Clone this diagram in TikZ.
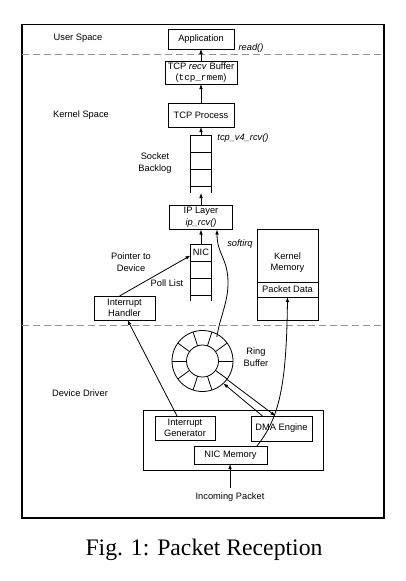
\documentclass[tikz,border=0pt]{standalone}
\usepackage{fontspec}
\setmainfont{Liberation Serif}
\setsansfont{Liberation Sans}
\setmonofont{Liberation Mono}
\usepackage{tikz}
\usetikzlibrary{positioning}
\usetikzlibrary{arrows.meta}

\tikzset{
  lbl/.style={font=\sffamily\fontsize{9.3}{11.5}\selectfont, align=center, inner sep=0pt},
  blk/.style={lbl, draw, line width=0.8pt, outer sep=0pt},
  cell/.style={lbl, draw, line width=0.8pt, outer sep=0pt, minimum width=21pt, minimum height=17pt},
  sep/.style={draw=gray!85, dash pattern=on 7pt off 4pt, line width=0.9pt},
}

\begin{document}
\begin{tikzpicture}[x=1pt, y=-1pt, line width=0.8pt, >={Latex[length=5pt,width=3.6pt]}]
	\useasboundingbox (0,0) rectangle (406,581);
	\draw[line width=1.2pt] (22,24.5) rectangle (384,518);
	% space separators
	\draw[sep] (22,54) -- (384,54);
	\draw[sep] (22,325) -- (384,325);
	
	\node[lbl] (user) at (78,38) {User Space};
	\node[lbl] (kernel) at (81,115) {Kernel Space};
	\node[lbl] (driver) at (80,393) {Device Driver};
	
	\node[blk, minimum width=66pt, minimum height=20pt] (app) at (201,39) {Application};
	\node[blk, minimum width=72pt, minimum height=23pt] (rmem) [below = 12pt of app] {TCP \textit{recv} Buffer\\(\texttt{tcp\_rmem})};
	\node[blk, minimum width=66pt, minimum height=24pt] (tcp) [below = 19pt of rmem] {TCP Process};
	
	% socket backlog
	\node[cell] (bl1) [below = 8pt of tcp] {};
	\node[cell] (bl2) [below = 0pt of bl1] {};
	\node[cell] (bl3) [below = 0pt of bl2] {};
	\draw (bl3.south west) -- ++(0,7) (bl3.south east) -- ++(0,7);
	\coordinate (bltail) at ([yshift=-7pt]bl3.south);
	
	\node[blk, minimum width=63pt, minimum height=24pt] (ip) [below = 19.5pt of bl3] {IP Layer\\\textit{ip\_rcv()}};
	
	% poll list
	\node[cell] (nic) [below = 14.5pt of ip] {NIC};
	\node[cell] (pl2) [below = 0pt of nic] {};
	\node[cell] (pl3) [below = 0pt of pl2] {};
	\draw (pl3.south west) -- ++(0,6) (pl3.south east) -- ++(0,6);
	
	\draw[->] (rmem) -- (app);
	\draw[->] (tcp) -- (rmem);
	\draw[->] (bl1) -- (tcp);
	\draw[->] (ip) -- (bltail);
	\draw[->] (nic) -- (ip);
	
	\node[lbl] (readlbl) at (251,48) {\textit{read()}};
	\node[lbl] (v4lbl) at (243,138) {\textit{tcp\_v4\_rcv()}};
	\node[lbl] (bllbl) at (155,163) {Socket\\Backlog};
	\node[lbl] (softlbl) at (240,244) {\textit{softirq}};
	\node[lbl] (ptrlbl) at (131,262) {Pointer to\\Device};
	\node[lbl] (polllbl) at (167,283) {Poll List};
	\node[lbl] (ringlbl) at (256,357) {Ring\\Buffer};
	
	% kernel memory
	\node[blk, minimum width=61pt, minimum height=53pt] (kmem) at (287.5,255.5) {};
	\node[lbl] (kmemlbl) at ([yshift=-7pt]kmem.center) {Kernel\\Memory};
	\node[blk, minimum width=61pt, minimum height=15pt] (pdata) [below = 0pt of kmem] {Packet Data};
	\node[blk, minimum width=61pt, minimum height=23pt] (kfree) [below = 0pt of pdata] {};
	
	\node[blk, minimum width=61pt, minimum height=24pt] (ihand) at (124.5,308) {Interrupt\\Handler};
	
	% ring buffer
	\node[circle, draw, minimum size=61pt, inner sep=0pt, outer sep=0pt] (ring) at (202.5,361) {};
	\node[circle, draw, minimum size=32pt, inner sep=0pt, outer sep=0pt] (ringin) at (ring.center) {};
	\foreach \a in {0,36,...,324}
		\draw (ring.\a) -- (ringin.\a);
	
	% NIC
	\node[blk, minimum width=180pt, minimum height=60pt] (nicdev) at (233,440) {};
	\node[blk, minimum width=60pt, minimum height=24pt] (igen) at (185,428) {Interrupt\\Generator};
	\node[blk, minimum width=61pt, minimum height=25pt] (dma) at (281.5,428.5) {DMA Engine};
	\node[blk, minimum width=73pt, minimum height=18pt] (nicmem) at (230.5,455) {NIC Memory};
	\node[lbl] (incoming) at (230,497) {Incoming Packet};
	
	\draw[->] ([yshift=4pt]incoming.north) -- (incoming.north |- nicmem.south);
	\draw[->] ([xshift=-8pt]igen.north) -- ([xshift=3pt]ihand.south);
	\draw[->] ([xshift=-5pt]ihand.north) -- ([yshift=-3pt]nic.west);
	\draw[->] ([xshift=-19pt]dma.north) -- (ring.-47);
	\draw[->] (ring.-37) -- ([xshift=-6pt]dma.north);
	
	\coordinate (sbend) at (228,283);
	\draw[->] ([yshift=-3pt]ring.62) .. controls +(3,-20) and +(0,20) .. (sbend)
		.. controls +(0,-25) and +(0,25) .. ([xshift=16pt]ip.south);
	\draw[->] ([xshift=-10pt]nicmem.north east) .. controls +(22,-28) and +(-1,90) .. (pdata.south);
	
	\node[font=\fontsize{23.7}{28}\selectfont, anchor=base] (caption) at (204,555) {Fig. 1: Packet Reception};
\end{tikzpicture}
\end{document}
